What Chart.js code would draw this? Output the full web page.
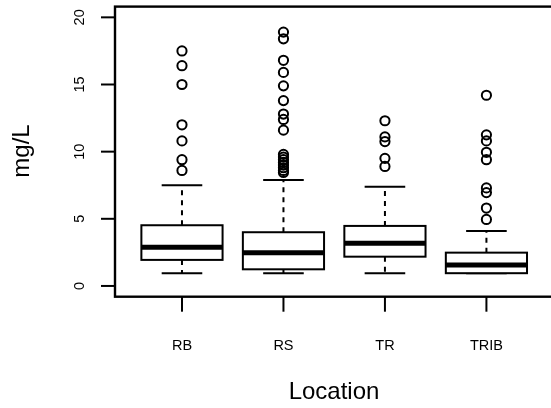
<!DOCTYPE html>
<html>
<head>
<meta charset="utf-8">
<script src="https://cdn.jsdelivr.net/npm/chart.js@4/dist/chart.umd.min.js"></script>
<style>
  html, body { margin: 0; padding: 0; background: #fff; overflow: hidden; }
  #wrap { width: 560px; height: 408px; }
</style>
</head>
<body>
<div id="wrap"><canvas id="grafica"></canvas></div>
<script>
// resumen por ubicación (mg/L)
const ubicaciones = ["RB", "RS", "TR", "TRIB"];
const bigoteInf = [0.95, 0.95, 0.95, 0.95];
const cuartil1 = [1.94, 1.24, 2.18, 0.95];
const mediana = [2.88, 2.48, 3.18, 1.56];
const cuartil3 = [4.52, 4.0, 4.47, 2.48];
const bigoteSup = [7.5, 7.89, 7.39, 4.1];

// valores atípicos de cada ubicación
const atipicosRB = [17.5, 16.4, 15.0, 12.0, 10.8, 9.4, 8.6];
const atipicosRS = [18.9, 18.4, 16.8, 15.9, 14.9, 13.8, 12.8, 12.4, 11.6,
                    9.8, 9.6, 9.4, 9.2, 9.0, 8.8, 8.6, 8.45];
const atipicosTR = [12.3, 11.1, 10.75, 9.5, 8.9];
const atipicosTRIB = [14.2, 11.25, 10.8, 9.95, 9.4, 7.3, 6.95, 5.8, 4.95];

const marcasY = [0, 5, 10, 15, 20];

const puntos = [];
[atipicosRB, atipicosRS, atipicosTR, atipicosTRIB].forEach((lista, i) => {
  lista.forEach(v => puntos.push({ x: i + 1, y: v }));
});

const fuente = '"Liberation Sans", Arial, sans-serif';

// cajas, ejes y marco al estilo de R
const cajas = {
  id: "cajas",
  beforeDatasetsDraw(chart) {
    const ctx = chart.ctx;
    const sx = chart.scales.x, sy = chart.scales.y;
    const medio = (sx.getPixelForValue(1.4) - sx.getPixelForValue(1)); // media caja
    const tope = medio / 2;
    ctx.save();
    ctx.strokeStyle = "#000";
    ubicaciones.forEach((_, i) => {
      const cx = sx.getPixelForValue(i + 1);
      const yLo = sy.getPixelForValue(bigoteInf[i]);
      const yQ1 = sy.getPixelForValue(cuartil1[i]);
      const yMed = sy.getPixelForValue(mediana[i]);
      const yQ3 = sy.getPixelForValue(cuartil3[i]);
      const yHi = sy.getPixelForValue(bigoteSup[i]);

      // bigotes punteados
      ctx.lineWidth = 2;
      ctx.setLineDash([5, 5]);
      ctx.beginPath();
      ctx.moveTo(cx, yQ3); ctx.lineTo(cx, yHi);
      ctx.moveTo(cx, yQ1); ctx.lineTo(cx, yLo);
      ctx.stroke();
      ctx.setLineDash([]);

      // topes
      ctx.beginPath();
      ctx.moveTo(cx - tope, yHi); ctx.lineTo(cx + tope, yHi);
      ctx.moveTo(cx - tope, yLo); ctx.lineTo(cx + tope, yLo);
      ctx.stroke();

      // caja
      ctx.fillStyle = "#fff";
      ctx.fillRect(cx - medio, yQ3, 2 * medio, yQ1 - yQ3);
      ctx.strokeRect(cx - medio, yQ3, 2 * medio, yQ1 - yQ3);

      // mediana
      ctx.lineWidth = 5;
      ctx.lineCap = "butt";
      ctx.beginPath();
      ctx.moveTo(cx - medio, yMed); ctx.lineTo(cx + medio, yMed);
      ctx.stroke();
    });
    ctx.restore();
  },
  afterDraw(chart) {
    const ctx = chart.ctx;
    const a = chart.chartArea;
    const sx = chart.scales.x, sy = chart.scales.y;
    ctx.save();
    ctx.strokeStyle = "#000";
    ctx.fillStyle = "#000";
    ctx.lineWidth = 2.4;
    ctx.strokeRect(a.left, a.top, a.right - a.left, a.bottom - a.top);

    // eje Y
    ctx.lineWidth = 2;
    ctx.font = "14.5px " + fuente;
    marcasY.forEach(v => {
      const y = sy.getPixelForValue(v);
      ctx.beginPath();
      ctx.moveTo(a.left - 14, y); ctx.lineTo(a.left, y);
      ctx.stroke();
      ctx.save();
      ctx.translate(84, y);
      ctx.rotate(-Math.PI / 2);
      ctx.textAlign = "center";
      ctx.textBaseline = "alphabetic";
      ctx.fillText(String(v), 0, 0);
      ctx.restore();
    });

    // eje X
    ubicaciones.forEach((nombre, i) => {
      const x = sx.getPixelForValue(i + 1);
      ctx.beginPath();
      ctx.moveTo(x, a.bottom); ctx.lineTo(x, a.bottom + 15);
      ctx.stroke();
      ctx.textAlign = "center";
      ctx.textBaseline = "alphabetic";
      ctx.fillText(nombre, x, 349.5);
    });

    // títulos
    ctx.font = "24px " + fuente;
    ctx.textAlign = "center";
    ctx.fillText("Location", 334, 399);
    ctx.save();
    ctx.translate(29, 151);
    ctx.rotate(-Math.PI / 2);
    ctx.fillText("mg/L", 0, 0);
    ctx.restore();
    ctx.restore();
  }
};

new Chart(document.getElementById("grafica"), {
  type: "scatter",
  data: {
    datasets: [{
      label: "atípicos",
      data: puntos,
      pointStyle: "circle",
      pointRadius: 4.6,
      pointHoverRadius: 4.6,
      pointBorderWidth: 2,
      pointBorderColor: "#000",
      pointBackgroundColor: "rgba(0,0,0,0)"
    }]
  },
  options: {
    responsive: true,
    maintainAspectRatio: false,
    animation: false,
    layout: { padding: { left: 115, right: 5, top: 6.5, bottom: 111.3 } },
    scales: {
      x: { type: "linear", min: 0.34, max: 4.66, display: false },
      y: { type: "linear", min: -0.8, max: 20.8, display: false }
    },
    plugins: {
      legend: { display: false },
      tooltip: { enabled: false }
    }
  },
  plugins: [cajas]
});
</script>
</body>
</html>
